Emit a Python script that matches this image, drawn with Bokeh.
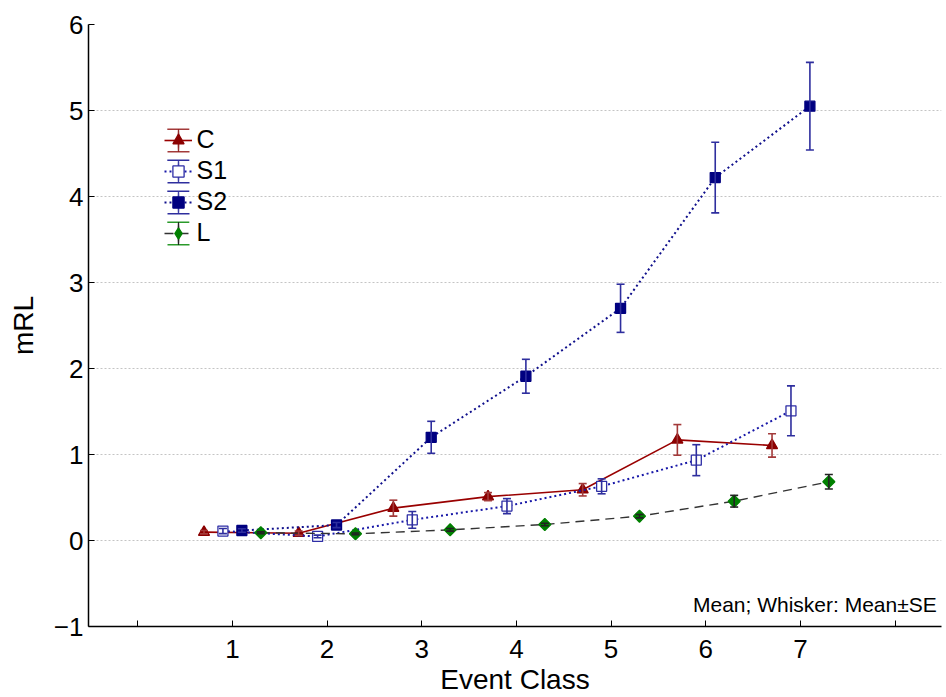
import numpy as np
from bokeh.plotting import figure
from bokeh.models import (ColumnDataSource, Whisker, TeeHead, Legend, LegendItem,
                          FixedTicker, Label, Range1d)
from bokeh.embed import file_html
from bokeh.resources import INLINE

# ---- data ----
event_class = [1, 2, 3, 4, 5, 6, 7]
x_ticks = [0, 1, 2, 3, 4, 5, 6, 7, 8]
y_ticks = [-1, 0, 1, 2, 3, 4, 5, 6]

c_mean = [0.097, 0.085, 0.376, 0.51, 0.59, 1.17, 1.105]
c_se = [0.02, 0.025, 0.093, 0.047, 0.072, 0.178, 0.136]

s1_mean = [0.11, 0.047, 0.24, 0.40, 0.63, 0.934, 1.508]
s1_se = [0.03, 0.015, 0.097, 0.087, 0.087, 0.18, 0.29]

s2_mean = [0.116, 0.18, 1.20, 1.91, 2.70, 4.22, 5.05]
s2_se = [0.02, 0.03, 0.186, 0.197, 0.28, 0.41, 0.51]

l_mean = [0.09, 0.078, 0.124, 0.186, 0.283, 0.457, 0.683]
l_se = [0.01, 0.01, 0.015, 0.015, 0.02, 0.068, 0.085]

FONT = "Liberation Sans"

p = figure(width=946, height=697, output_backend="svg", toolbar_location=None,
           x_range=Range1d(-0.52, 8.49), y_range=Range1d(-1, 6),
           min_border_left=88, min_border_right=5, min_border_top=24,
           min_border_bottom=71)
p.outline_line_color = None
p.background_fill_color = "white"
p.border_fill_color = "white"
# off-screen range used only to host the legend's whisker-stem icon glyph
p.extra_y_ranges = {"legend_icons": Range1d(1000, 1001)}

p.xgrid.visible = False
p.ygrid.ticker = FixedTicker(ticks=[0, 1, 2, 3, 4, 5])
p.ygrid.grid_line_color = "#c4c4c4"
p.ygrid.grid_line_dash = "2 2"
p.ygrid.grid_line_width = 1

p.xaxis.ticker = FixedTicker(ticks=x_ticks)
p.xaxis.major_label_overrides = {0: "", 8: ""}
p.yaxis.ticker = FixedTicker(ticks=y_ticks)

for ax in (p.xaxis[0], p.yaxis[0]):
    ax.axis_line_color = "black"
    ax.axis_line_width = 1.5
    ax.major_tick_in = 6
    ax.major_tick_out = 0
    ax.major_tick_line_color = "black"
    ax.minor_tick_line_color = None
    ax.major_label_text_font = FONT
    ax.major_label_text_font_size = "26px"
    ax.major_label_text_color = "black"
    ax.axis_label_text_font = FONT
    ax.axis_label_text_font_size = "28px"
    ax.axis_label_text_font_style = "normal"
    ax.axis_label_text_color = "black"

p.xaxis.axis_label = "Event Class"
p.yaxis.axis_label = "mRL"
p.xaxis.major_label_standoff = 13
p.xaxis.axis_label_standoff = 3
p.yaxis.major_label_standoff = 5
p.yaxis.axis_label_standoff = 12

series = [
    dict(name="C", mean=c_mean, se=c_se, off=-0.3, line_color="#990000", line_dash="solid",
         line_width=1.6, marker="triangle", angle=0.0, size=11, fill="#8b0000",
         mline="#8b0000", lmarker="triangle", wcol="#a33a3a", lcap="#a33a3a",
         lstem="#8b1a1a"),
    dict(name="S1", mean=s1_mean, se=s1_se, off=-0.1, line_color="#1818a8", line_dash="2 3",
         line_width=2, marker="square", angle=0.0, size=10, fill="white",
         mline="#2e2ea6", lmarker="square", wcol="#2e2e9e", lcap="#2e2e9e",
         lstem="#2e2e9e"),
    dict(name="S2", mean=s2_mean, se=s2_se, off=0.1, line_color="#10108c", line_dash="2 3",
         line_width=2, marker="square", angle=0.0, size=10, fill="#000080",
         mline="#000080", lmarker="square", wcol="#2e2e9e", lcap="#2e2e9e",
         lstem="#2e2e9e"),
    dict(name="L", mean=l_mean, se=l_se, off=0.3, line_color="#333333", line_dash="9 6",
         line_width=1.4, marker="square", angle=np.pi / 4, size=8.5, fill="#008000",
         mline="#008000", lmarker="diamond", wcol="#222222", lcap="#2a9a2a",
         lstem="#111111"),
]

items = []
for s in series:
    m = np.array(s["mean"], dtype=float)
    e = np.array(s["se"], dtype=float)
    src = ColumnDataSource(dict(x=np.array(event_class, dtype=float) + s["off"],
                                y=m, lo=m - e, hi=m + e))
    ln = p.line("x", "y", source=src, line_color=s["line_color"], line_width=s["line_width"],
                line_dash=s["line_dash"])
    w = Whisker(source=src, base="x", lower="lo", upper="hi", dimension="height",
                line_color=s["wcol"], line_width=1.6, level="glyph",
                upper_head=TeeHead(size=8, line_color=s["wcol"], line_width=1.6),
                lower_head=TeeHead(size=8, line_color=s["wcol"], line_width=1.6))
    p.add_layout(w)
    mk = p.scatter("x", "y", source=src, marker=s["marker"], angle=s["angle"], size=s["size"],
                   fill_color=s["fill"], line_color=s["mline"], line_width=1.3)
    # legend-only icons: whisker caps, whisker stem, marker
    caps = p.rect("x", "y", width=0, height=0, source=src, fill_color=None,
                  line_color=s["lcap"], line_width=1.6, line_dash="22 23", visible=False)
    stem = p.ellipse("x", "y", width=1.0, height=24, width_units="screen",
                     height_units="screen", source=src, y_range_name="legend_icons",
                     fill_color=s["lstem"], line_color=s["lstem"], line_width=0.8)
    lmk = p.scatter("x", "y", source=src, marker=s["lmarker"], size=s["size"],
                    fill_color=s["fill"], line_color=s["mline"], line_width=1.3,
                    visible=False)
    items.append(LegendItem(label=s["name"], renderers=[caps, stem, ln, lmk]))

legend = Legend(items=items, location=(75.5, 379), glyph_width=28, glyph_height=28,
                label_height=28, label_standoff=5, spacing=2, padding=0, margin=0,
                border_line_color=None, background_fill_alpha=0,
                label_text_font=FONT, label_text_font_size="25px",
                label_text_color="black")
p.add_layout(legend)

note = Label(x=8.44, y=-0.74, text="Mean; Whisker: Mean\u00b1SE", text_align="right",
             text_baseline="alphabetic", text_font=FONT, text_font_size="21px",
             text_color="black")
p.add_layout(note)

open("out.html", "w").write(file_html(p, INLINE))
